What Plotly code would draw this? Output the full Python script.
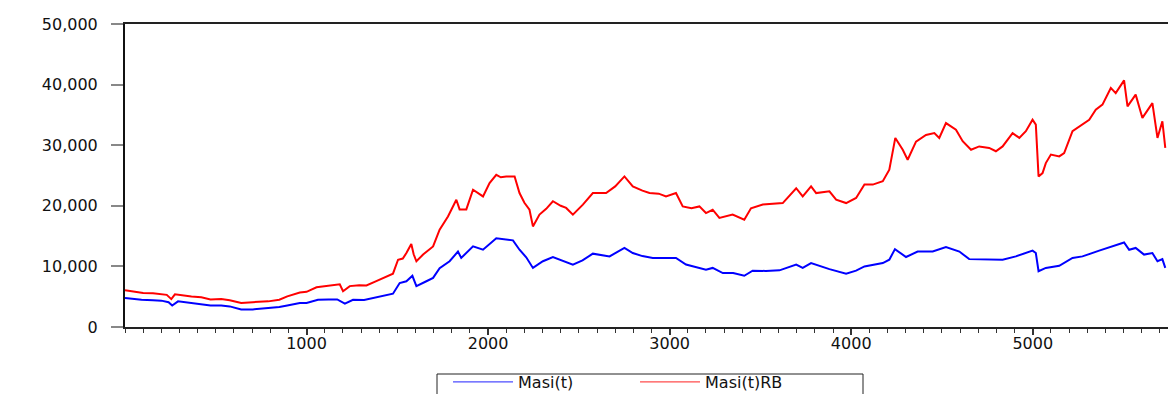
import plotly.graph_objects as go

# Masi(t)RB series: observation index and level
rb_idx = [0, 50, 100, 154, 200, 230, 255, 275, 366, 420, 471, 530, 577, 640, 704, 789,
          850, 894, 963, 1000, 1055, 1106, 1146, 1183, 1201, 1238, 1290, 1330, 1381, 1423,
          1476, 1504, 1530, 1550, 1577, 1590, 1605, 1642, 1697, 1733, 1779, 1825, 1843,
          1880, 1917, 1972, 2008, 2045, 2070, 2100, 2146, 2173, 2200, 2228, 2247, 2283,
          2320, 2357, 2400, 2430, 2467, 2522, 2577, 2650, 2700, 2751, 2797, 2850, 2889,
          2940, 2980, 3035, 3072, 3120, 3164, 3200, 3237, 3274, 3347, 3411, 3448, 3513,
          3587, 3623, 3697, 3733, 3779, 3807, 3880, 3917, 3972, 4027, 4073, 4119, 4174,
          4210, 4243, 4284, 4311, 4357, 4412, 4458, 4485, 4522, 4577, 4614, 4660, 4705,
          4760, 4797, 4834, 4889, 4926, 4962, 4999, 5017, 5032, 5054, 5072, 5100, 5146,
          5173, 5219, 5256, 5311, 5347, 5384, 5430, 5457, 5503, 5522, 5567, 5604, 5659,
          5687, 5714, 5730]
rb_val = [6050, 5800, 5600, 5550, 5450, 5300, 4600, 5400, 5050, 4900, 4550, 4600, 4400,
          3950, 4100, 4230, 4500, 5050, 5700, 5800, 6550, 6750, 6980, 7050, 5900, 6750,
          6900, 6850, 7530, 8100, 8800, 11100, 11300, 12200, 13700, 12000, 10850, 11950,
          13300, 16050, 18250, 21000, 19400, 19400, 22650, 21550, 23750, 25100, 24700,
          24850, 24850, 22100, 20500, 19350, 16600, 18550, 19500, 20750, 20000, 19650,
          18550, 20200, 22100, 22100, 23200, 24850, 23200, 22500, 22100, 22000, 21550,
          22100, 19900, 19600, 19900, 18800, 19350, 18000, 18550, 17700, 19600, 20200,
          20350, 20450, 22900, 21550, 23200, 22100, 22400, 21000, 20450, 21300, 23500,
          23500, 24050, 25950, 31200, 29250, 27600, 30600, 31700, 32000, 31200, 33650,
          32550, 30650, 29250, 29800, 29550, 29000, 29800, 32000, 31200, 32300, 34200,
          33400, 24850, 25400, 27050, 28450, 28150, 28700, 32300, 33100, 34200, 35850,
          36700, 39450, 38600, 40700, 36400, 38350, 34500, 36950, 31200, 33950, 29550]

# Masi(t) series: observation index and level
masi_idx = [0, 50, 91, 154, 200, 240, 260, 292, 366, 420, 471, 530, 577, 640, 704, 789,
            850, 894, 963, 1000, 1063, 1120, 1169, 1211, 1256, 1317, 1366, 1423, 1476,
            1513, 1550, 1583, 1605, 1660, 1697, 1733, 1788, 1834, 1852, 1917, 1972, 2045,
            2100, 2137, 2173, 2210, 2247, 2302, 2357, 2410, 2467, 2520, 2577, 2669, 2751,
            2797, 2850, 2907, 3035, 3090, 3140, 3200, 3237, 3293, 3350, 3411, 3457, 3530,
            3605, 3677, 3697, 3733, 3779, 3880, 3972, 4027, 4073, 4174, 4210, 4241, 4302,
            4366, 4449, 4522, 4596, 4650, 4760, 4834, 4907, 4999, 5017, 5032, 5072, 5146,
            5219, 5274, 5366, 5439, 5503, 5531, 5567, 5613, 5659, 5687, 5714, 5730]
masi_val = [4800, 4600, 4500, 4400, 4350, 4100, 3550, 4230, 3950, 3750, 3550, 3550, 3400,
            2900, 2900, 3150, 3300, 3550, 3950, 3960, 4500, 4550, 4550, 3850, 4500, 4450,
            4780, 5050, 5500, 7250, 7550, 8450, 6750, 7550, 8100, 9700, 10850, 12450, 11400,
            13300, 12750, 14650, 14500, 14300, 12750, 11500, 9750, 10850, 11550, 10900,
            10300, 11000, 12100, 11650, 13050, 12200, 11700, 11400, 11400, 10300, 9900,
            9450, 9750, 8900, 8900, 8450, 9300, 9250, 9350, 10100, 10300, 9750, 10550, 9550,
            8800, 9300, 10000, 10550, 11100, 12850, 11550, 12450, 12450, 13200, 12450,
            11200, 11200, 11100, 11650, 12600, 12200, 9200, 9750, 10100, 11400, 11650,
            12600, 13300, 13950, 12750, 13050, 11950, 12200, 10850, 11200, 9750]

y_ticks = [0, 10000, 20000, 30000, 40000, 50000]
x_ticks = [1000, 2000, 3000, 4000, 5000]

FONT = "DejaVu Sans"
BLUE = "#0000FF"
RED = "#FF0000"

fig = go.Figure()
# series lines
fig.add_trace(go.Scatter(x=masi_idx, y=masi_val, mode="lines", name="Masi(t)",
                         line=dict(color=BLUE, width=2), showlegend=False))
fig.add_trace(go.Scatter(x=rb_idx, y=rb_val, mode="lines", name="Masi(t)RB",
                         line=dict(color=RED, width=2), showlegend=False))
# thin legend keys
fig.add_trace(go.Scatter(x=[None], y=[None], mode="lines", name="Masi(t)",
                         line=dict(color="#4d4dff", width=1.2)))
fig.add_trace(go.Scatter(x=[None], y=[None], mode="lines", name="Masi(t)RB",
                         line=dict(color="#ff4d4d", width=1.2)))

# legend frame, open at the bottom edge of the page
fig.add_shape(type="rect", xref="paper", yref="paper",
              x0=(437 - 125) / 1043, x1=(863 - 125) / 1043,
              y0=-0.25, y1=-47 / 303,
              line=dict(color="#222222", width=1), fillcolor="rgba(0,0,0,0)",
              layer="above")

fig.update_layout(
    width=1168, height=394,
    margin=dict(l=125, r=0, t=24, b=67, autoexpand=False),
    paper_bgcolor="white", plot_bgcolor="white",
    font=dict(family=FONT, size=16, color="#111111"),
    showlegend=True,
    legend=dict(orientation="h", x=0.489, xanchor="center", y=-0.125, yanchor="top",
                borderwidth=0, bgcolor="rgba(0,0,0,0)",
                font=dict(family=FONT, size=16), itemwidth=60,
                entrywidth=112, tracegroupgap=0),
)
fig.update_xaxes(
    range=[0, 5745], tickvals=x_ticks, ticktext=[str(v) for v in x_ticks],
    showgrid=False, zeroline=False,
    showline=True, linecolor="#222222", linewidth=2, mirror=True,
    ticks="outside", ticklen=6, tickwidth=1.5, tickcolor="#333333",
    minor=dict(dtick=100, tick0=0, ticks="outside", ticklen=4, tickwidth=1,
               tickcolor="#333333", showgrid=False),
    ticklabelstandoff=-5,
    tickfont=dict(family=FONT, size=16),
)
fig.update_yaxes(
    range=[0, 50000], tickvals=y_ticks, tickformat=",",
    showgrid=False, zeroline=False,
    showline=True, linecolor="#111111", linewidth=2,
    ticks="outside", ticklen=12, tickwidth=1.5, tickcolor="#888888",
    ticklabelstandoff=10,
    tickfont=dict(family=FONT, size=16),
)

fig.write_html("out.html")
